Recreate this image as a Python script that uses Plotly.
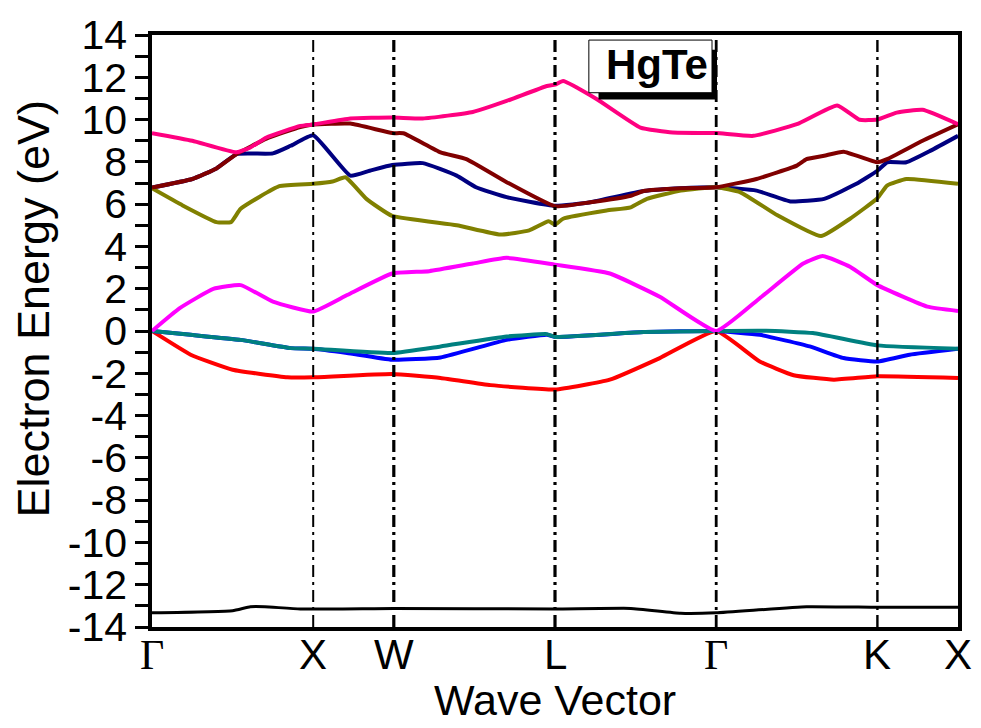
import plotly.graph_objects as go

# High-symmetry points (positions along the path) and labels
kpt_pos = [0.0, 1.0, 1.5, 2.5, 3.5, 4.5, 5.0]
kpt_lab = ["Γ", "X", "W", "L", "Γ", "K", "X"]
kpt_line_w = [0, 2, 3.2, 3.2, 2.8, 2.4, 0]

# Bands (k positions, energies in eV)
k_black = [0, 0.5, 0.61, 0.7, 0.92, 1.5, 2.5, 2.97, 3.28, 3.5, 4.06, 4.5, 5.0]
e_black = [-13.33, -13.23, -13.04, -13.04, -13.15, -13.12, -13.15, -13.12, -13.35, -13.33, -13.04, -13.07, -13.07]

k_red = [0, 0.24, 0.5, 0.84, 1.0, 1.49, 1.79, 2.1, 2.5, 2.84, 3.15, 3.5, 3.77, 3.98, 4.23, 4.5, 5.0]
e_red = [0.0, -1.12, -1.83, -2.19, -2.19, -2.03, -2.22, -2.56, -2.77, -2.3, -1.28, 0.0, -1.44, -2.09, -2.3, -2.14, -2.22]

k_blue = [0, 0.24, 0.55, 0.86, 1.0, 1.21, 1.49, 1.79, 2.2, 2.45, 2.5, 3.05, 3.5, 3.77, 4.08, 4.29, 4.5, 4.7, 5.0]
e_blue = [0.0, -0.18, -0.42, -0.81, -0.84, -1.04, -1.36, -1.25, -0.42, -0.18, -0.28, -0.05, 0.0, -0.18, -0.73, -1.28, -1.44, -1.12, -0.84]

k_teal = [0, 0.24, 0.55, 0.86, 1.0, 1.49, 1.79, 2.2, 2.45, 2.5, 3.05, 3.5, 3.81, 4.1, 4.5, 5.0]
e_teal = [0.0, -0.18, -0.42, -0.81, -0.84, -1.04, -0.73, -0.26, -0.15, -0.28, -0.05, 0.0, 0.01, -0.1, -0.68, -0.84]

k_magenta = [0, 0.17, 0.38, 0.55, 0.75, 1.0, 1.21, 1.49, 1.72, 1.99, 2.2, 2.5, 2.84, 3.15, 3.5, 3.77, 4.04, 4.16, 4.33, 4.5, 4.81, 5.0]
e_magenta = [0.0, 1.07, 1.99, 2.17, 1.39, 0.92, 1.7, 2.72, 2.83, 3.19, 3.46, 3.14, 2.72, 1.62, 0.0, 1.55, 3.19, 3.55, 3.04, 2.17, 1.15, 0.95]

k_navy = [0, 0.25, 0.40, 0.525, 0.75, 0.86, 1.0, 1.23, 1.35, 1.49, 1.68, 1.89, 2.01, 2.2, 2.5, 2.72, 3.05, 3.28, 3.5, 3.75, 3.96, 4.17, 4.37, 4.5, 4.56, 4.68, 4.83, 5.0]
e_navy = [6.78, 7.19, 7.69, 8.37, 8.4, 8.76, 9.26, 7.35, 7.58, 7.85, 7.94, 7.35, 6.8, 6.33, 5.92, 6.09, 6.62, 6.75, 6.8, 6.64, 6.13, 6.25, 6.96, 7.58, 7.98, 7.98, 8.53, 9.23]

k_olive = [0, 0.19, 0.40, 0.49, 0.55, 0.79, 1.0, 1.12, 1.2, 1.33, 1.49, 1.89, 2.16, 2.34, 2.46, 2.5, 2.55, 2.82, 2.97, 3.07, 3.28, 3.5, 3.65, 3.88, 4.15, 4.33, 4.5, 4.56, 4.68, 5.0]
e_olive = [6.75, 5.94, 5.15, 5.15, 5.78, 6.85, 6.96, 7.07, 7.27, 6.25, 5.44, 5.0, 4.56, 4.76, 5.19, 5.03, 5.31, 5.7, 5.85, 6.25, 6.64, 6.8, 6.56, 5.47, 4.49, 5.31, 6.28, 6.88, 7.19, 6.96]

k_darkred = [0, 0.25, 0.40, 0.525, 0.71, 0.92, 1.0, 1.23, 1.49, 1.56, 1.79, 1.95, 2.2, 2.5, 2.72, 2.97, 3.05, 3.28, 3.5, 3.75, 4.0, 4.06, 4.17, 4.29, 4.5, 4.56, 4.78, 5.0]
e_darkred = [6.78, 7.19, 7.69, 8.37, 9.1, 9.65, 9.77, 9.81, 9.36, 9.35, 8.45, 8.13, 7.04, 5.9, 6.09, 6.4, 6.62, 6.75, 6.8, 7.19, 7.82, 8.13, 8.29, 8.48, 7.98, 8.13, 9.0, 9.78]

k_pink = [0, 0.25, 0.525, 0.61, 0.71, 0.92, 1.0, 1.23, 1.49, 1.68, 1.99, 2.2, 2.45, 2.5, 2.55, 2.76, 3.03, 3.23, 3.5, 3.73, 4.0, 4.25, 4.39, 4.5, 4.62, 4.78, 5.0]
e_pink = [9.36, 9.0, 8.45, 8.68, 9.15, 9.7, 9.77, 10.05, 10.1, 10.05, 10.36, 10.88, 11.59, 11.65, 11.82, 10.96, 9.62, 9.39, 9.36, 9.23, 9.78, 10.67, 9.99, 10.0, 10.33, 10.46, 9.78]

bands = [
    (k_black, e_black, "#000000", 3),
    (k_red, e_red, "#FF0000", 4),
    (k_blue, e_blue, "#0000FF", 4),
    (k_teal, e_teal, "#008080", 4),
    (k_magenta, e_magenta, "#FF00FF", 4),
    (k_navy, e_navy, "#000080", 4),
    (k_olive, e_olive, "#808000", 4),
    (k_darkred, e_darkred, "#800000", 4),
    (k_pink, e_pink, "#FF0080", 4),
]

y_ticks = list(range(-14, 15))
y_text = [str(v) if v % 2 == 0 else "" for v in y_ticks]

fig = go.Figure()
for k, e, c, w in bands:
    fig.add_trace(go.Scatter(x=k, y=e, mode="lines",
                             line=dict(color=c, width=w, shape="spline", smoothing=0.4),
                             showlegend=False, hoverinfo="skip"))

# vertical dash-dot lines at high-symmetry points
for p, w in zip(kpt_pos, kpt_line_w):
    if w > 0:
        fig.add_shape(type="line", xref="x", yref="paper", x0=p, x1=p, y0=0, y1=1,
                      line=dict(color="black", width=w, dash="12px,5px,3px,5px"), layer="above")

# x tick labels (high-symmetry point names)
for p, t in zip(kpt_pos, kpt_lab):
    fam = "Liberation Serif, Times New Roman, serif" if t == "Γ" else "Liberation Sans, Arial"
    fig.add_annotation(x=p, y=(627 - 655) / 595, xref="x", yref="paper", text=t,
                       showarrow=False, xanchor="center", yanchor="middle",
                       font=dict(family=fam, size=42, color="black"))

# HgTe label with shadow
fig.add_shape(type="rect", xref="x", yref="y", x0=2.77, x1=3.505, y0=10.95, y1=13.3,
              fillcolor="black", line=dict(width=0), layer="above")
fig.add_shape(type="rect", xref="x", yref="y", x0=2.71, x1=3.474, y0=11.27, y1=13.76,
              fillcolor="white", line=dict(color="black", width=1), layer="above")
fig.add_annotation(x=3.13, y=12.6, xref="x", yref="y", text="<b>HgTe</b>", showarrow=False,
                   font=dict(family="Liberation Sans, Arial", size=42, color="black"))

fig.update_layout(
    width=981, height=728,
    margin=dict(l=152, r=23, t=32, b=101),
    paper_bgcolor="white", plot_bgcolor="white",
    font=dict(family="Liberation Sans, Arial", color="black"),
    xaxis=dict(range=[0, 5], showticklabels=False, ticks="",
               showgrid=False, zeroline=False, showline=True, linecolor="black",
               linewidth=3.5, mirror=True),
    yaxis=dict(range=[-14, 14], tickmode="array", tickvals=y_ticks, ticktext=y_text,
               ticks="outside", ticklen=13, tickwidth=3, tickcolor="black",
               showgrid=False, zeroline=False, showline=True, linecolor="black",
               linewidth=3.5, mirror=True, tickfont=dict(size=41)),
)

fig.add_annotation(text="Electron Energy (eV)", xref="paper", yref="paper",
                   x=(34 - 152) / 806, y=(627 - 307) / 595, textangle=-90, showarrow=False,
                   xanchor="center", yanchor="middle", font=dict(size=45))
fig.add_annotation(text="Wave Vector", xref="paper", yref="paper",
                   x=0.5, y=(627 - 700) / 595, showarrow=False,
                   xanchor="center", yanchor="middle", font=dict(size=43))

fig.write_html("out.html")
